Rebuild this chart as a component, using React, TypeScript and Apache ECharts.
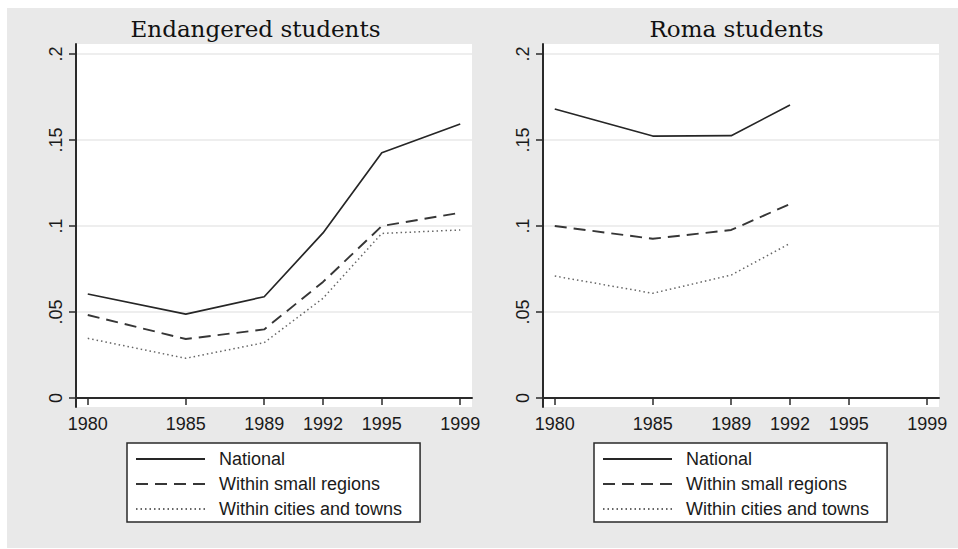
import React, { useEffect, useRef } from 'react';
import * as echarts from 'echarts';

const years = [1980, 1985, 1989, 1992, 1995, 1999];
const romaYears = [1980, 1985, 1989, 1992];
const xTicks = [1980, 1985, 1989, 1992, 1995, 1999];
const yTicks = [0, 0.05, 0.1, 0.15, 0.2];
const seriesNames = ['National', 'Within small regions', 'Within cities and towns'];
const panelTitles = ['Endangered students', 'Roma students'];

const endNational = [0.0605, 0.0488, 0.0589, 0.096, 0.1426, 0.1593];
const endSmall = [0.0483, 0.0343, 0.0399, 0.0675, 0.1, 0.1077];
const endCities = [0.0347, 0.0231, 0.0322, 0.058, 0.0957, 0.0977];

const romaNational = [0.168, 0.1523, 0.1525, 0.1703];
const romaSmall = [0.1, 0.0926, 0.0977, 0.1128];
const romaCities = [0.0709, 0.0609, 0.0715, 0.0899];

const lineStyles: any[] = [
  { type: 'solid', width: 1.7, color: '#262626' },
  { type: [12, 7], width: 1.9, color: '#363636' },
  { type: [1.5, 3], width: 1.5, color: '#666666' },
];

const fmtY = (v: number) => {
  if (v === 0) return '0';
  return String(Number(v.toFixed(4))).replace(/^0/, '');
};

export default function App() {
  const ref = useRef<HTMLDivElement>(null);
  useEffect(() => {
    if (!ref.current) return;
    const chart = echarts.init(ref.current, undefined, { renderer: 'svg' });
    const grids = [
      { left: 76, top: 44, width: 396, height: 363 },
      { left: 543, top: 44, width: 396, height: 363 },
    ];
    const xAxis = grids.map((_, i) => ({
      type: 'value',
      gridIndex: i,
      min: 1979.4,
      max: 1999.6,
      axisLine: { show: true, lineStyle: { color: '#2a2a2a', width: 2 } },
      axisTick: { show: true, length: 7, customValues: xTicks, lineStyle: { color: '#2a2a2a', width: 1.5 } },
      axisLabel: {
        customValues: xTicks,
        margin: 8,
        fontSize: 18,
        fontFamily: 'Liberation Sans, Arial, sans-serif',
        color: '#1a1a1a',
        formatter: (v: number) => String(v),
      },
      splitLine: { show: false },
    }));
    const yAxis = grids.map((_, i) => ({
      type: 'value',
      gridIndex: i,
      min: -0.0052,
      max: 0.2058,
      axisLine: { show: true, lineStyle: { color: '#2a2a2a', width: 2 } },
      axisTick: { show: true, length: 7, customValues: yTicks, lineStyle: { color: '#2a2a2a', width: 1.5 } },
      axisLabel: {
        customValues: yTicks,
        rotate: 90,
        margin: 11,
        fontSize: 18,
        fontFamily: 'Liberation Sans, Arial, sans-serif',
        color: '#1a1a1a',
        formatter: fmtY,
      },
      splitLine: { show: true, lineStyle: { color: '#e8e8e8', width: 1.5 } },
    }));
    const panelData = [
      { xs: years, vals: [endNational, endSmall, endCities] },
      { xs: romaYears, vals: [romaNational, romaSmall, romaCities] },
    ];
    const series: any[] = [];
    panelData.forEach((p, gi) => {
      p.vals.forEach((vals, si) => {
        series.push({
          type: 'line',
          name: seriesNames[si],
          xAxisIndex: gi,
          yAxisIndex: gi,
          data: vals.map((v, k) => [p.xs[k], v]),
          symbol: 'none',
          lineStyle: lineStyles[si],
          itemStyle: { color: lineStyles[si].color },
          z: 3,
        });
      });
    });
    const legendLefts = [127, 594];
    chart.setOption({
      animation: false,
      backgroundColor: '#ffffff',
      title: [
        { text: panelTitles[0], left: 255.5, textAlign: 'center', top: 17, padding: 0 },
        { text: panelTitles[1], left: 736.5, textAlign: 'center', top: 17, padding: 0 },
      ].map((t) => ({
        ...t,
        textStyle: { fontFamily: 'DejaVu Serif, serif', fontSize: 23, fontWeight: 'normal', color: '#111' },
      })),
      graphic: [
        {
          type: 'rect',
          z: -10,
          silent: true,
          shape: { x: 7, y: 8, width: 951, height: 540 },
          style: { fill: '#e9e9e9' },
        },
      ],
      grid: grids.map((g) => ({ ...g, show: true, backgroundColor: '#ffffff', borderWidth: 0 })),
      xAxis,
      yAxis,
      legend: legendLefts.map((l) => ({
        left: l,
        top: 443,
        orient: 'vertical',
        data: seriesNames,
        itemWidth: 69,
        itemHeight: 14,
        itemGap: 7,
        padding: [7, 18, 4, 8],
        backgroundColor: '#ffffff',
        borderColor: '#2a2a2a',
        borderWidth: 1.5,
        borderRadius: 0,
        selectedMode: false,
        itemStyle: { opacity: 0 },
        textStyle: {
          fontSize: 18,
          fontFamily: 'Liberation Sans, Arial, sans-serif',
          color: '#1a1a1a',
          padding: [0, 0, 0, 9],
        },
      })),
      series,
    });
    return () => chart.dispose();
  }, []);
  return (
    <div
      ref={ref}
      style={{ position: 'fixed', left: 0, top: 0, width: 958, height: 549 }}
    />
  );
}
